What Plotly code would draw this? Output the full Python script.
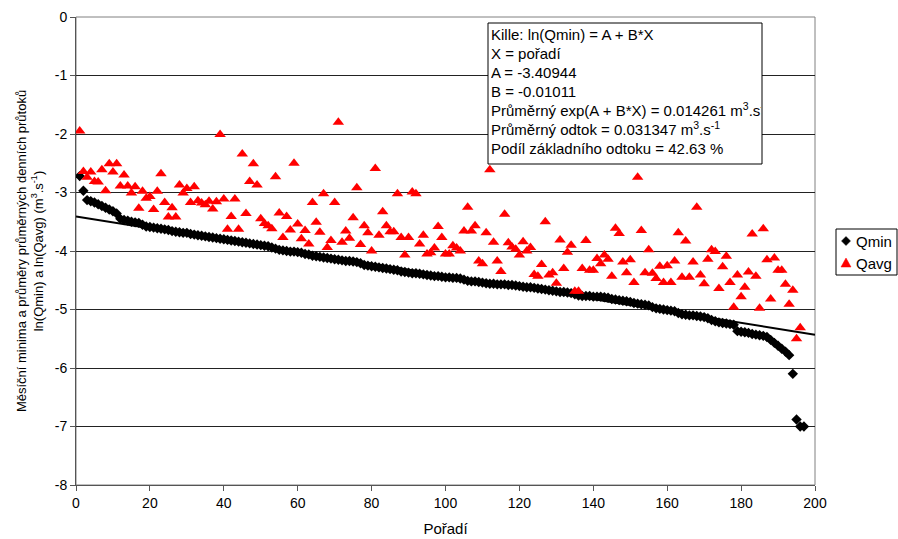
import plotly.graph_objects as go

# ---------------- data ----------------
qmin = [
    -2.72, -2.97, -3.13, -3.15, -3.17, -3.20, -3.23, -3.26, -3.29, -3.32,
    -3.36, -3.45, -3.47, -3.48, -3.50, -3.51, -3.52, -3.55, -3.58, -3.59,
    -3.60, -3.61, -3.62, -3.63, -3.64, -3.66, -3.67, -3.68, -3.69, -3.69,
    -3.71, -3.72, -3.73, -3.74, -3.75, -3.76, -3.77, -3.78, -3.79, -3.80,
    -3.81, -3.82, -3.83, -3.84, -3.85, -3.86, -3.87, -3.88, -3.89, -3.90,
    -3.91, -3.92, -3.94, -3.96, -3.98, -3.99, -4.00, -4.01, -4.01, -4.02,
    -4.03, -4.05, -4.06, -4.08, -4.09, -4.10, -4.11, -4.12, -4.13, -4.14,
    -4.15, -4.16, -4.17, -4.17, -4.18, -4.19, -4.21, -4.24, -4.25, -4.26,
    -4.27, -4.28, -4.29, -4.30, -4.31, -4.32, -4.33, -4.35, -4.36, -4.37,
    -4.38, -4.38, -4.39, -4.40, -4.41, -4.42, -4.43, -4.43, -4.44, -4.45,
    -4.45, -4.46, -4.46, -4.47, -4.49, -4.51, -4.52, -4.52, -4.53, -4.54,
    -4.55, -4.56, -4.56, -4.57, -4.57, -4.57, -4.58, -4.58, -4.59, -4.60,
    -4.61, -4.62, -4.62, -4.63, -4.64, -4.65, -4.66, -4.67, -4.68, -4.69,
    -4.70, -4.70, -4.71, -4.72, -4.74, -4.76, -4.77, -4.77, -4.77, -4.78,
    -4.78, -4.78, -4.79, -4.80, -4.82, -4.83, -4.84, -4.85, -4.86, -4.87,
    -4.89, -4.90, -4.91, -4.92, -4.93, -4.96, -4.98, -4.99, -5.00, -5.01,
    -5.02, -5.03, -5.06, -5.08, -5.09, -5.10, -5.10, -5.11, -5.12, -5.13,
    -5.15, -5.18, -5.20, -5.22, -5.23, -5.24, -5.25, -5.26, -5.37, -5.38,
    -5.39, -5.40, -5.42, -5.43, -5.44, -5.45, -5.47, -5.52, -5.57, -5.62,
    -5.67, -5.72, -5.78, -6.10, -6.88, -7.00, -7.00,
]

qavg = [
    -1.95, -2.64, -2.74, -2.65, -2.81, -2.82, -2.61, -2.97, -2.51, -2.65,
    -2.51, -2.89, -2.70, -2.89, -3.01, -2.90, -3.27, -2.98, -3.10, -3.07,
    -3.29, -2.98, -2.68, -3.17, -3.42, -3.26, -3.42, -2.87, -3.01, -2.93,
    -3.17, -2.90, -3.14, -3.18, -3.21, -3.15, -3.28, -3.16, -2.01, -3.11,
    -3.63, -3.41, -3.11, -3.63, -2.34, -3.36, -2.81, -2.51, -2.87, -3.45,
    -3.53, -3.57, -3.62, -2.73, -3.35, -3.77, -3.41, -3.64, -2.50, -3.54,
    -3.79, -3.65, -3.88, -3.17, -3.51, -3.68, -3.02, -3.94, -3.82, -3.17,
    -1.80, -3.85, -3.66, -3.78, -3.43, -2.92, -3.89, -3.57, -3.69, -4.00,
    -2.59, -3.73, -3.33, -3.57, -3.67, -3.67, -3.02, -3.77, -4.07, -3.77,
    -2.99, -3.02, -3.88, -3.73, -4.05, -4.03, -3.95, -3.58, -3.77, -4.05,
    -4.05, -3.91, -3.95, -4.00, -3.66, -3.25, -3.66, -3.57, -4.17, -4.22,
    -3.69, -2.61, -3.85, -4.17, -4.35, -3.37, -3.86, -3.93, -3.97, -4.07,
    -3.84, -4.00, -3.94, -4.40, -4.43, -4.23, -3.50, -4.41, -4.37, -4.55,
    -3.81, -4.30, -4.02, -3.90, -4.69, -4.69, -4.30, -3.82, -4.33, -4.33,
    -4.13, -4.22, -4.07, -4.14, -4.43, -3.61, -3.70, -4.19, -4.37, -4.15,
    -4.54, -2.74, -3.65, -4.37, -3.98, -4.38, -4.47, -4.26, -4.54, -4.25,
    -4.54, -4.17, -3.69, -4.45, -3.83, -4.45, -4.19, -3.25, -4.41, -4.56,
    -4.14, -3.98, -4.01, -4.64, -4.27, -4.09, -4.54, -4.96, -4.41, -4.78,
    -4.62, -4.36, -3.71, -4.43, -4.98, -3.62, -4.15, -4.82, -4.12, -4.33,
    -4.33, -4.57, -4.91, -4.67, -5.50, -5.31,
]

rank_min = list(range(1, len(qmin) + 1))
rank_avg = list(range(1, len(qavg) + 1))

# Kille regression constants (from the text box)
A = -3.40944
B = -0.01011
trend_x = [0, 200]

box_lines = [
    "Kille: ln(Qmin) = A + B*X",
    "X = pořadí",
    "A = -3.40944",
    "B = -0.01011",
    "Průměrný exp(A + B*X) = 0.014261 m<sup>3</sup>.s<sup>-1</sup>",
    "Průměrný odtok = 0.031347 m<sup>3</sup>.s<sup>-1</sup>",
    "Podíl základního odtoku = 42.63 %",
]

series_names = ["Qmin", "Qavg"]

x_ticks = list(range(0, 201, 20))
y_ticks = list(range(-8, 1, 1))
y_ticktext = [str(v) for v in y_ticks]

# ---------------- geometry ----------------
W, H = 898, 539
L, R, T, Bm = 76, 815, 17, 485
PW, PH = R - L, Bm - T


def px_x(p):
    return (p - L) / PW


def px_y(p):
    return 1 - (p - T) / PH


FONT = "Liberation Sans, Arial, sans-serif"

fig = go.Figure()

fig.add_trace(go.Scatter(
    x=rank_min, y=qmin, mode="markers", name=series_names[0],
    marker=dict(symbol="diamond", size=8, color="black"), showlegend=False,
))
fig.add_trace(go.Scatter(
    x=rank_avg, y=qavg, mode="markers", name=series_names[1],
    marker=dict(symbol="triangle-up", size=10, color="#FF0000"), showlegend=False,
))
fig.add_trace(go.Scatter(
    x=trend_x, y=[A + B * v for v in trend_x], mode="lines",
    line=dict(color="black", width=2), showlegend=False, hoverinfo="skip",
))

# text box
BX0, BX1, BY0, BY1 = 488, 762, 23, 164
fig.add_shape(type="rect", xref="paper", yref="paper",
              x0=px_x(BX0), x1=px_x(BX1), y0=px_y(BY1), y1=px_y(BY0),
              fillcolor="white", line=dict(color="black", width=1), layer="above")
line_y = [35, 54, 72.5, 91, 110, 128.5, 148]
for txt, yy in zip(box_lines, line_y):
    fig.add_annotation(text=txt, xref="paper", yref="paper",
                       x=px_x(BX0 + 2), y=px_y(yy), xanchor="left", yanchor="middle",
                       width=BX1 - BX0 - 4, align="left", borderpad=0,
                       showarrow=False, font=dict(family=FONT, size=15, color="black"))

# manual legend (box, symbols, labels)
LX0, LX1, LY0, LY1 = 836, 897, 229, 275
fig.add_shape(type="rect", xref="paper", yref="paper",
              x0=px_x(LX0), x1=px_x(LX1), y0=px_y(LY1), y1=px_y(LY0),
              fillcolor="white", line=dict(color="black", width=1), layer="above")
legend_y = [241, 263]
legend_paths = ["M 0,4.5 L 4.5,0 L 0,-4.5 L -4.5,0 Z", "M -5,-4 L 5,-4 L 0,5 Z"]
legend_colors = ["black", "#FF0000"]
for name, yy, path, col in zip(series_names, legend_y, legend_paths, legend_colors):
    fig.add_shape(type="path", xref="paper", yref="paper",
                  xsizemode="pixel", ysizemode="pixel",
                  xanchor=px_x(846), yanchor=px_y(yy), path=path,
                  fillcolor=col, line=dict(color=col, width=0.5), layer="above")
    fig.add_annotation(text=name, xref="paper", yref="paper",
                       x=px_x(855), y=px_y(yy), xanchor="left", yanchor="middle",
                       showarrow=False, borderpad=0,
                       font=dict(family=FONT, size=15, color="black"))

# plot-area border
fig.add_shape(type="rect", xref="paper", yref="paper", x0=0, x1=1, y0=0, y1=1,
              line=dict(color="#808080", width=1), layer="below")

fig.update_layout(
    width=W, height=H,
    margin=dict(l=L, r=W - R, t=T, b=H - Bm, autoexpand=False),
    paper_bgcolor="white", plot_bgcolor="white",
    font=dict(family=FONT, size=12, color="black"),
    showlegend=False,
)
fig.update_xaxes(
    range=[0, 200], tickvals=x_ticks, ticks="outside", ticklen=5, tickcolor="#555",
    showline=True, linecolor="#555", linewidth=1, showgrid=False, zeroline=False,
    tickfont=dict(size=14),
    title=dict(text="Pořadí", font=dict(size=15), standoff=13),
)
fig.update_yaxes(
    range=[-8, 0], tickvals=y_ticks, ticktext=y_ticktext, ticks="outside", ticklen=5,
    tickcolor="#555", showline=True, linecolor="#555", linewidth=1,
    showgrid=True, gridcolor="#222", gridwidth=1, zeroline=False,
    tickfont=dict(size=14),
    title=dict(text="Měsíční minima a průměry průměrných denních průtoků<br>"
                    "ln(Qmin) a ln(Qavg) (m<sup>3</sup>.s<sup>-1</sup>)",
               font=dict(size=13), standoff=8),
)

fig.write_html("out.html")
